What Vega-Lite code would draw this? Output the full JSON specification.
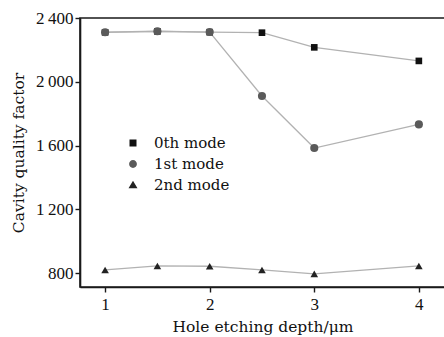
{
  "$schema": "https://vega.github.io/schema/vega-lite/v6.json",
  "autosize": "none",
  "width": 365,
  "height": 269,
  "padding": {"left": 80, "top": 18, "right": 0, "bottom": 50},
  "background": "white",
  "config": {
    "font": "Liberation Serif",
    "view": {"stroke": "#1a1a1a", "strokeWidth": 1.6},
    "axis": {
      "domainColor": "#1a1a1a",
      "domainWidth": 1.6,
      "tickColor": "#1a1a1a",
      "tickWidth": 1.4,
      "tickSize": 5,
      "grid": false,
      "labelFont": "Liberation Serif",
      "labelFontSize": 17,
      "labelColor": "#111",
      "titleFont": "DejaVu Serif",
      "titleFontSize": 15.5,
      "titleFontWeight": "normal",
      "titleColor": "#111"
    },
    "legend": {"labelFont": "DejaVu Serif", "labelFontSize": 15, "labelColor": "#111"}
  },
  "data": {
    "values": [
      {"depth": 1, "Q": 2310, "mode": "0th mode"},
      {"depth": 1.5, "Q": 2316, "mode": "0th mode"},
      {"depth": 2, "Q": 2311, "mode": "0th mode"},
      {"depth": 2.5, "Q": 2308, "mode": "0th mode"},
      {"depth": 3, "Q": 2216, "mode": "0th mode"},
      {"depth": 4, "Q": 2131, "mode": "0th mode"},
      {"depth": 1, "Q": 2311, "mode": "1st mode"},
      {"depth": 1.5, "Q": 2317, "mode": "1st mode"},
      {"depth": 2, "Q": 2312, "mode": "1st mode"},
      {"depth": 2.5, "Q": 1911, "mode": "1st mode"},
      {"depth": 3, "Q": 1585, "mode": "1st mode"},
      {"depth": 4, "Q": 1733, "mode": "1st mode"},
      {"depth": 1, "Q": 821, "mode": "2nd mode"},
      {"depth": 1.5, "Q": 846, "mode": "2nd mode"},
      {"depth": 2, "Q": 844, "mode": "2nd mode"},
      {"depth": 2.5, "Q": 821, "mode": "2nd mode"},
      {"depth": 3, "Q": 796, "mode": "2nd mode"},
      {"depth": 4, "Q": 846, "mode": "2nd mode"}
    ]
  },
  "encoding": {
    "x": {
      "field": "depth",
      "type": "quantitative",
      "scale": {"domain": [0.76, 4.25], "nice": false, "zero": false},
      "axis": {"values": [1, 2, 3, 4], "title": "Hole  etching  depth/\u03bcm", "labelPadding": 4, "titlePadding": 7}
    },
    "y": {
      "field": "Q",
      "type": "quantitative",
      "scale": {"domain": [714, 2400], "nice": false, "zero": false},
      "axis": {
        "values": [800, 1200, 1600, 2000, 2400],
        "labelExpr": "datum.value >= 1000 ? floor(datum.value / 1000) + '\u2009' + substring(toString(datum.value), 1) : toString(datum.value)",
        "title": "Cavity  quality  factor",
        "labelPadding": 2,
        "titlePadding": 9
      }
    }
  },
  "layer": [
    {
      "mark": {"type": "line", "color": "#b2b2b2", "strokeWidth": 1.3},
      "encoding": {"detail": {"field": "mode"}}
    },
    {
      "encoding": {
        "color": {
          "field": "mode",
          "scale": {"domain": ["0th mode", "1st mode", "2nd mode"], "range": ["#111111", "#5a5a5a", "#222222"]},
          "legend": {
            "title": null,
            "orient": "none",
            "legendX": 45,
            "legendY": 117,
            "symbolSize": 196,
            "symbolStrokeWidth": 1.3,
            "symbolType": {"expr": "datum.value === '0th mode' ? 'M-2.5,0H2.5M-0.5,-0.5H0.5V0.5H-0.5Z' : datum.value === '1st mode' ? 'M-2.5,0H2.5M0.56,0A0.56,0.56 0 1 1 -0.56,0A0.56,0.56 0 1 1 0.56,0Z' : 'M-2.5,0H2.5M0,-0.62L0.64,0.45H-0.64Z'"},
            "labelOffset": 13,
            "rowPadding": 5,
            "encode": {
              "symbols": {
                "size": {"value": 196},
                "fill": {"value": {"expr": "datum.value === '1st mode' ? '#5a5a5a' : '#151515'"}},
                "stroke": {"value": {"expr": "datum.value === '1st mode' ? '#555555' : '#222222'"}},
                "strokeWidth": {"value": 1.3},
                "opacity": {"value": 1}
              }
            }
          }
        }
      },
      "layer": [
        {
          "transform": [{"filter": "datum.mode === '0th mode'"}],
          "mark": {"type": "point", "filled": true, "opacity": 1, "shape": "square", "size": 44}
        },
        {
          "transform": [{"filter": "datum.mode === '1st mode'"}],
          "mark": {"type": "point", "filled": true, "opacity": 1, "shape": "circle", "size": 66}
        },
        {
          "transform": [{"filter": "datum.mode === '2nd mode'"}],
          "mark": {"type": "point", "filled": true, "opacity": 1, "shape": "triangle-up", "size": 58}
        }
      ]
    }
  ]
}
